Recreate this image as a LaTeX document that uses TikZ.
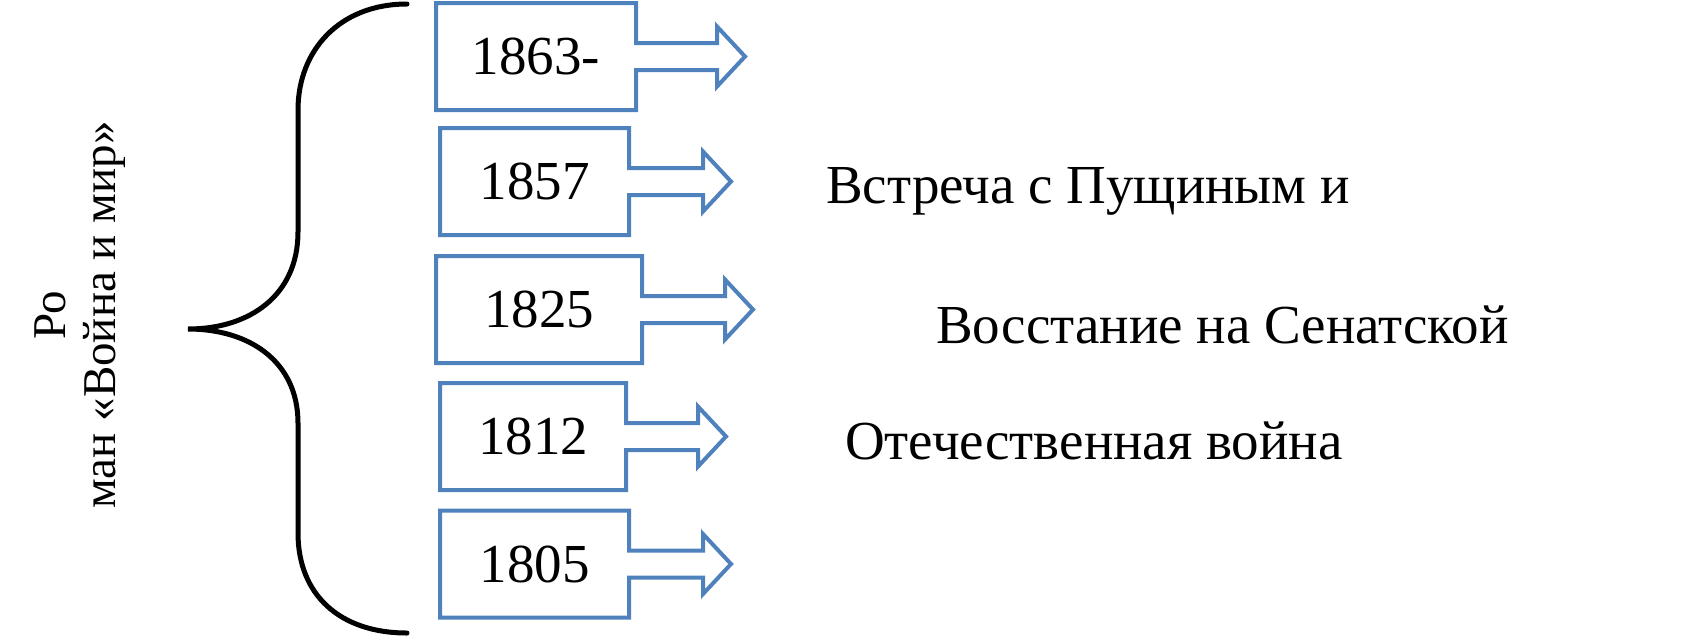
\documentclass[tikz,border=0pt]{standalone}
\usepackage{fontspec}
\setmainfont{Liberation Serif}
\usetikzlibrary{calc}
\definecolor{boxblue}{HTML}{4F81BD}
\tikzset{
    yearbox/.style={inner sep=0pt,outer sep=0pt,minimum height=107pt,font=\fontsize{55}{60}\selectfont},
    yearline/.style={draw=boxblue,line width=4pt,line join=miter},
    eventtext/.style={anchor=base west,inner sep=0pt,font=\fontsize{55}{60}\selectfont},
}
\begin{document}
\begin{tikzpicture}[x=1pt,y=-1pt]
        \useasboundingbox (0,0) rectangle (1691,638);
        %% NOTE: title and brace
        \node[rotate=90,align=center,inner sep=0pt,font=\fontsize{47}{50}\selectfont] (title) at (80,315) {Ро\\ман «Война и мир»};
        \coordinate (top) at (407,4);
        \coordinate (tip) at (188,329);
        \coordinate (bot) at (407,633);
        \draw[line width=5pt,line cap=round] (top) .. controls (340,4) and (298,50) .. (298,110) -- (298,232)
            .. controls (298,295) and (250,329) .. (tip) .. controls (250,329) and (298,362) .. (298,423)
            -- (298,533) .. controls (298,595) and (340,633) .. (bot);
        %% years with arrows
        \foreach \nm/\yr/\cx/\cy/\bw/\len in {a/1863-/536/56.5/200/81, b/1857/534.5/181.5/189/74,
                c/1825/539/309.5/206/83, d/1812/533/436.5/186/72, e/1805/534.5/564/189/74}{
            \node[yearbox,minimum width=\bw pt] (\nm) at (\cx,\cy) {\yr};
            \draw[yearline] (\nm.north east) -- ($(\nm.east)+(0,-13.5)$) -- ++(\len,0) -- ++(0,-16.5)
                -- ($(\nm.east)+(\len+28,0)$) -- ($(\nm.east)+(\len,30)$) -- ++(0,-16.5)
                -- ($(\nm.east)+(0,13.5)$) -- (\nm.south east) -- (\nm.south west) -- (\nm.north west) -- cycle;
        }
        %% events
        \node[eventtext] (meet) at (826,203) {Встреча с Пущиным и};
        \node[eventtext] (revolt) at (936,343) {Восстание на Сенатской};
        \node[eventtext] (war) at (845,459) {Отечественная война};
    \end{tikzpicture}
\end{document}
